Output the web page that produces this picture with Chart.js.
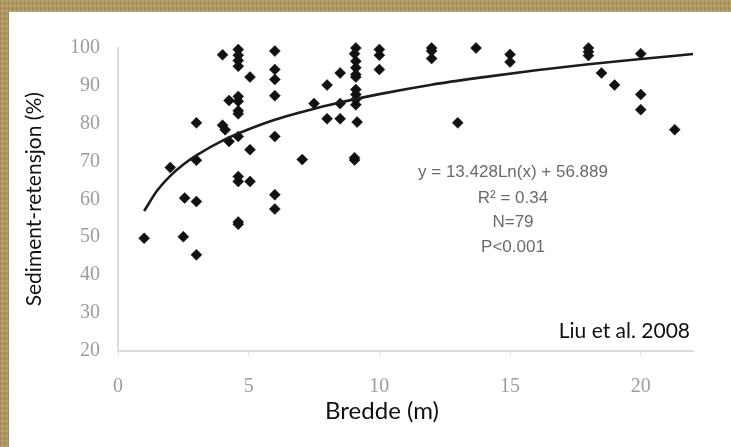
<!DOCTYPE html>
<html>
<head>
<meta charset="utf-8">
<script src="https://cdn.jsdelivr.net/npm/chart.js@4.4.1/dist/chart.umd.min.js"></script>
<style>
  html, body { margin: 0; padding: 0; }
  body {
    width: 731px; height: 447px; overflow: hidden; position: relative;
    background-color: #ad9562;
    background-image:
      repeating-linear-gradient(90deg, rgba(90,70,30,0.18) 0 1px, rgba(0,0,0,0) 1px 4px),
      repeating-linear-gradient(0deg, rgba(255,240,200,0.14) 0 2px, rgba(0,0,0,0) 2px 5px);
  }
  #panel { position: absolute; left: 9px; top: 12px; right: 0; bottom: 0; background: #fff; }
  #chart { position: absolute; left: 0; top: 0; }
</style>
</head>
<body>
<div id="panel"></div>
<canvas id="chart" width="731" height="447"></canvas>
<script>
// Scatter data (bredde in m, sediment retention in %)
const bredde = [
  1, 2, 2.55, 2.5, 3, 3, 3, 3,
  4, 4, 4.1, 4.25, 4.25,
  4.6, 4.6, 4.6, 4.6, 4.6, 4.6, 4.6, 4.6, 4.6, 4.6, 4.6, 4.6, 4.6,
  5.05, 5.05, 5.05,
  6, 6, 6, 6, 6, 6, 6,
  7.05, 7.5, 8, 8, 8.5, 8.5, 8.5,
  9.1, 9.05, 9.1, 9.1, 9.1, 9.1, 9.1, 9.1, 9.1, 9.1, 9.15, 9.05, 9.05,
  10, 10, 10, 12, 12, 12, 13, 13.7, 15, 15,
  18, 18, 18, 18.5, 19, 20, 20, 20, 21.3
];
const retensjon = [
  49.7, 68.4, 60.3, 50.1, 80.2, 70.3, 59.4, 45.3,
  98.2, 79.6, 78.4, 86.1, 75.3,
  99.6, 98.1, 96.7, 95.2, 87.2, 85.9, 83.4, 82.6, 76.6, 66.0, 64.7, 54.0, 53.4,
  92.3, 73.1, 64.7,
  99.2, 94.3, 91.7, 87.4, 76.6, 61.2, 57.4,
  70.5, 85.3, 90.2, 81.3, 93.4, 85.3, 81.3,
  100, 98.5, 96.5, 94.8, 93.0, 92.3, 89.0, 87.7, 86.4, 85.0, 80.4, 71.0, 70.4,
  99.6, 98.1, 94.3, 100, 99.2, 97.2, 80.2, 100, 98.3, 96.3,
  100, 99, 98, 93.4, 90.2, 98.5, 87.7, 83.7, 78.4
];

// Log trend line
const trendX = [1, 1.5, 2, 2.5, 3, 4, 5, 6, 7, 8, 10, 12, 14, 16, 18, 20, 22];
const trendY = [56.9, 62.3, 66.2, 69.2, 71.6, 75.5, 78.5, 81.0, 83.0, 84.8, 87.8, 90.3, 92.3, 94.1, 95.7, 97.1, 98.4];

const xTicks = [0, 5, 10, 15, 20];
const yTicks = [20, 30, 40, 50, 60, 70, 80, 90, 100];

const xTitle = 'Bredde (m)';
const yTitle = 'Sediment-retensjon (%)';
const statLines = ['y = 13.428Ln(x) + 56.889', 'R\u00b2 = 0.34', 'N=79', 'P<0.001'];
const sourceText = 'Liu et al. 2008';

const tickFont = { family: '"Liberation Serif", "DejaVu Serif", serif', size: 20 };

// extra texts: equation block, source note and x title
const textPlugin = {
  id: 'texts',
  afterDraw(chart) {
    const ctx = chart.ctx;
    ctx.save();
    ctx.textBaseline = 'middle';
    ctx.textAlign = 'center';
    ctx.fillStyle = '#6a6a6a';
    ctx.font = '17px "Liberation Sans", Arial, sans-serif';
    const ys = [172, 198, 222, 247];
    statLines.forEach((t, i) => ctx.fillText(t, 513, ys[i]));

    ctx.fillStyle = '#111';
    ctx.font = '21px Lato, "Open Sans", sans-serif';
    ctx.textAlign = 'right';
    ctx.fillText(sourceText, 690, 331);

    ctx.font = '24px Lato, "Open Sans", sans-serif';
    ctx.textAlign = 'center';
    ctx.fillText(xTitle, 382, 411);
    ctx.restore();
  }
};

new Chart(document.getElementById('chart'), {
  type: 'scatter',
  data: {
    datasets: [{
      type: 'line',
      data: trendX.map((x, i) => ({ x: x, y: trendY[i] })),
      borderColor: '#1c1c1c',
      borderWidth: 2.6,
      pointRadius: 0,
      cubicInterpolationMode: 'monotone',
      fill: false,
      clip: false
    }, {
      data: bredde.map((x, i) => ({ x: x, y: retensjon[i] })),
      pointStyle: 'rectRot',
      pointRadius: 5.5,
      backgroundColor: '#111',
      borderColor: '#111',
      borderWidth: 0.5,
      clip: false
    }]
  },
  options: {
    responsive: false,
    animation: false,
    devicePixelRatio: 1,
    layout: { padding: { left: 0, top: 48, right: 38, bottom: 0 } },
    plugins: {
      legend: { display: false },
      tooltip: { enabled: false }
    },
    scales: {
      x: {
        type: 'linear',
        min: 0,
        max: 22,
        afterBuildTicks: (scale) => { scale.ticks = xTicks.map(v => ({ value: v })); },
        afterFit: (scale) => { scale.height = 96.5; },
        grid: { drawOnChartArea: false, drawTicks: true, tickLength: 5, color: '#e2e2e2' },
        border: { color: '#dcdcdc', width: 2 },
        ticks: { font: tickFont, color: '#9c9c9c', padding: 19 }
      },
      y: {
        min: 20,
        max: 100,
        afterBuildTicks: (scale) => { scale.ticks = yTicks.map(v => ({ value: v })); },
        afterFit: (scale) => { scale.width = 118; },
        grid: { drawOnChartArea: false, drawTicks: false },
        border: { color: '#dcdcdc', width: 2 },
        ticks: { font: tickFont, color: '#9c9c9c', padding: 18 },
        title: {
          display: true,
          text: yTitle,
          color: '#111',
          font: { family: 'Lato, "Open Sans", sans-serif', size: 21 },
          padding: { top: 22, bottom: 0 }
        }
      }
    }
  },
  plugins: [textPlugin]
});
</script>
</body>
</html>
